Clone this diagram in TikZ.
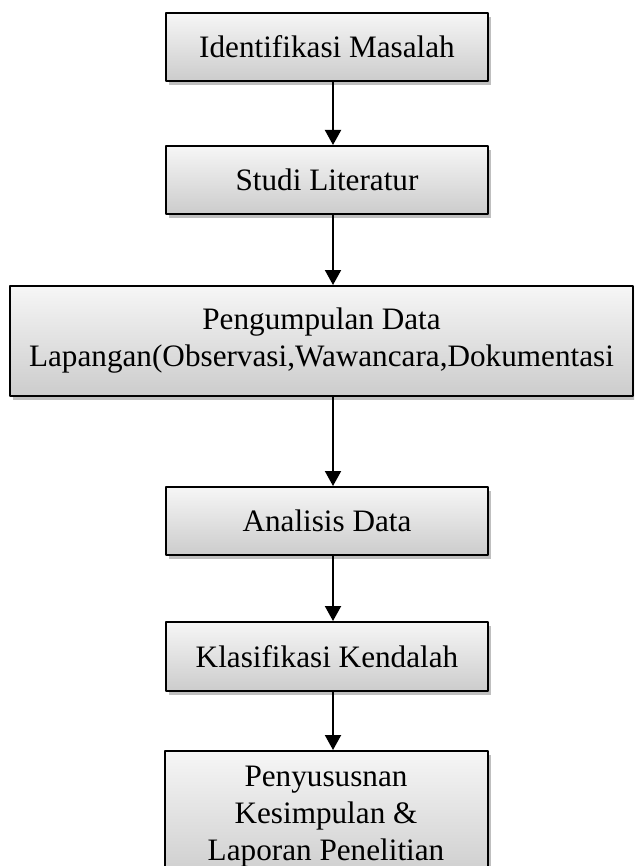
\documentclass[tikz,border=0pt]{standalone}
\usepackage{fontspec}
\setmainfont{Liberation Serif}
\usetikzlibrary{arrows.meta,shadows}

\begin{document}
\begin{tikzpicture}[
  x=.5pt,y=-.5pt,
  line join=round,
  stage/.style={draw=black,line width=1pt,top color=gray!7,bottom color=gray!40,
    drop shadow={shadow xshift=1.6pt,shadow yshift=-1.8pt,fill=black!50,opacity=.5},
    minimum width=161pt,minimum height=34pt,inner sep=0pt,align=center,
    font=\fontsize{15.6}{18.5}\selectfont},
  flow/.style={-{Triangle[length=7.5pt,width=8pt]},line width=1pt}
]
\useasboundingbox (0,0) rectangle (634,866);
\clip (0,0) rectangle (634,866);

% stages of the research
\node[stage] (ident) at (327,47) {Identifikasi Masalah};
\node[stage] (studi) at (327,180) {Studi Literatur};
\node[stage,minimum width=311.5pt,minimum height=55pt] (kumpul) at (321.5,341)
  {Pengumpulan Data\\Lapangan(Observasi,Wawancara,Dokumentasi};
\node[stage] (analisis) at (327,521) {Analisis Data};
\node[stage,minimum height=34.5pt] (klasif) at (327,656.5) {Klasifikasi Kendalah};
\node[stage,minimum width=161.5pt,minimum height=66pt] (susun) at (326,817)
  {Penyususnan\\Kesimpulan \&\\Laporan Penelitian};

% connectors on one vertical line
\coordinate (spine) at (333,0);
\draw[flow] (ident.south -| spine) -- (studi.north -| spine);
\draw[flow] (studi.south -| spine) -- (kumpul.north -| spine);
\draw[flow] (kumpul.south -| spine) -- (analisis.north -| spine);
\draw[flow] (analisis.south -| spine) -- (klasif.north -| spine);
\draw[flow] (klasif.south -| spine) -- (susun.north -| spine);

\end{tikzpicture}
\end{document}
